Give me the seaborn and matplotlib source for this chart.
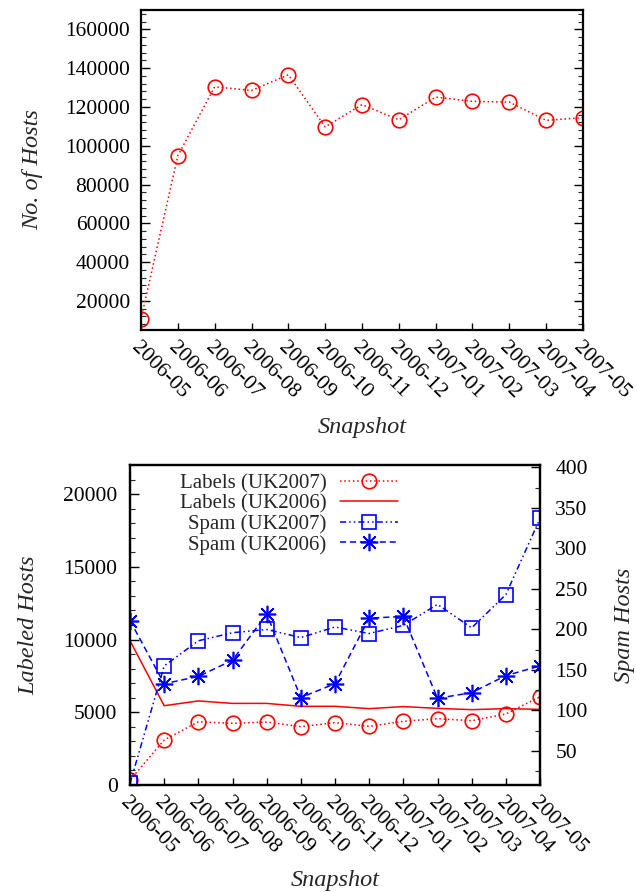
import matplotlib
matplotlib.use("Agg")
import matplotlib.pyplot as plt
from matplotlib.ticker import MultipleLocator
from matplotlib.lines import Line2D
import seaborn as sns
import pandas as pd
import numpy as np

# ---------------- data ----------------
snapshots = ["2006-05", "2006-06", "2006-07", "2006-08", "2006-09", "2006-10",
             "2006-11", "2006-12", "2007-01", "2007-02", "2007-03", "2007-04", "2007-05"]
hosts = [10700, 94900, 130400, 128500, 136600, 109700, 121200, 113400,
         125100, 122900, 122500, 113100, 114500]
labels_uk2007 = [340, 3090, 4350, 4240, 4330, 4010, 4290, 4030, 4380, 4560, 4420, 4880, 6070]
labels_uk2006 = [9920, 5450, 5780, 5610, 5610, 5410, 5410, 5250, 5390, 5270, 5180, 5250, 5200]
spam_uk2007 = [10, 155, 186, 196, 200, 190, 203, 195, 205, 231, 202, 243, 337]
spam_uk2006 = [211, 133, 142, 162, 219, 116, 133, 214, 216, 115, 122, 143, 155]

sns.set_style("ticks")
plt.rcParams['font.family'] = ['Liberation Serif', 'DejaVu Serif']

RED = '#ff0000'
BLUE = '#0000ff'
TICK_FS = 15.5
LAB_FS = 17.5

x = np.arange(len(snapshots))
df = pd.DataFrame({"x": x, "hosts": hosts, "l07": labels_uk2007, "l06": labels_uk2006,
                   "s07": spam_uk2007, "s06": spam_uk2006})

fig = plt.figure(figsize=(6.37, 8.92), dpi=100)
ax1 = fig.add_axes([141/637, 1-330/892, (583-141)/637, 320/892])
ax2 = fig.add_axes([130/637, 1-785/892, (540-130)/637, 320/892])
ax3 = ax2.twinx()

def style_axis(ax):
    for s in ax.spines.values():
        s.set_linewidth(1.6)
        s.set_color('black')
    ax.tick_params(axis='both', which='major', direction='in', length=6.5, width=1.0,
                   labelsize=TICK_FS, colors='black')
    ax.tick_params(axis='both', which='minor', direction='in', length=3.5, width=0.8)

DOT = (0, (1, 1.8))
DASHDOT = (0, (4, 2, 1, 2, 1, 2))
DASH = (0, (4, 2.5))

# ---------------- top plot ----------------
sns.lineplot(data=df, x="x", y="hosts", ax=ax1, color=RED, linestyle=DOT,
             linewidth=1.1, marker='o', markersize=10.5, markerfacecolor='none',
             markeredgecolor=RED, markeredgewidth=1.2)
ax1.set_xlim(0, 12)
ax1.set_ylim(5000, 170000)
ax1.yaxis.set_major_locator(MultipleLocator(20000))
ax1.yaxis.set_minor_locator(MultipleLocator(4000))
style_axis(ax1)
ax1.tick_params(axis='y', which='both', right=True, pad=8)
ax1.set_xticks(x)
ax1.set_xticklabels(snapshots, rotation=-45, ha='left', va='top', rotation_mode='anchor')
ax1.tick_params(axis='x', which='major', length=5, pad=6)
ax1.set_xlabel("Snapshot", fontsize=LAB_FS, style='italic')
ax1.xaxis.label.set_va('center')
ax1.xaxis.set_label_coords(0.5, -0.305)
ax1.set_ylabel("No. of Hosts", fontsize=LAB_FS, style='italic')
ax1.yaxis.label.set_va('center')
ax1.yaxis.set_label_coords(-0.246, 0.5)

# ---------------- bottom plot ----------------
lw = 1.1
sns.lineplot(data=df, x="x", y="l07", ax=ax2, color=RED, linestyle=DOT,
             linewidth=lw, marker='o', markersize=10.5, markerfacecolor='none',
             markeredgecolor=RED, markeredgewidth=1.2)
sns.lineplot(data=df, x="x", y="l06", ax=ax2, color=RED, linestyle='-', linewidth=lw)
sns.lineplot(data=df, x="x", y="s07", ax=ax3, color=BLUE,
             linestyle=DASHDOT, linewidth=lw, marker='s', markersize=10.5,
             markerfacecolor='none', markeredgecolor=BLUE, markeredgewidth=1.2)
sns.lineplot(data=df, x="x", y="s06", ax=ax3, color=BLUE, linestyle=DASH,
             linewidth=lw, marker=(8, 2, 0), markersize=12.5, markeredgecolor=BLUE,
             markeredgewidth=1.2)

ax2.set_xlim(0, 12)
ax2.set_ylim(0, 22000)
ax2.yaxis.set_major_locator(MultipleLocator(5000))
ax2.yaxis.set_minor_locator(MultipleLocator(1000))
ax3.set_ylim(8, 403)
ax3.yaxis.set_major_locator(MultipleLocator(50))
ax3.yaxis.set_minor_locator(MultipleLocator(25))
style_axis(ax2)
style_axis(ax3)
ax2.tick_params(axis='y', which='both', pad=9)
ax3.tick_params(axis='y', which='both', pad=11)
ax3.set_yticks([50, 100, 150, 200, 250, 300, 350, 400])
ax2.set_xticks(x)
ax2.set_xticklabels(snapshots, rotation=-45, ha='left', va='top', rotation_mode='anchor')
ax2.tick_params(axis='x', which='major', length=5, pad=6)
ax2.set_xlabel("Snapshot", fontsize=LAB_FS, style='italic')
ax2.xaxis.label.set_va('center')
ax2.xaxis.set_label_coords(0.5, -0.297)
ax2.set_ylabel("Labeled Hosts", fontsize=LAB_FS, style='italic')
ax2.yaxis.label.set_va('center')
ax2.yaxis.set_label_coords(-0.246, 0.5)
ax3.set_ylabel("Spam Hosts", fontsize=LAB_FS, style='italic')
ax3.yaxis.label.set_va('center')
ax3.yaxis.set_label_coords(1.205, 0.5)

handles = [
    Line2D([], [], color=RED, linestyle=DOT, linewidth=lw, marker='o',
           markersize=10.5, markerfacecolor='none', markeredgewidth=1.2),
    Line2D([], [], color=RED, linestyle='-', linewidth=lw),
    Line2D([], [], color=BLUE, linestyle=DASHDOT, linewidth=lw, marker='s',
           markersize=10.5, markerfacecolor='none', markeredgewidth=1.2),
    Line2D([], [], color=BLUE, linestyle=DASH, linewidth=lw, marker=(8, 2, 0),
           markersize=12.5, markeredgewidth=1.2),
]
names = ["Labels (UK2007)", "Labels (UK2006)", "Spam (UK2007)", "Spam (UK2006)"]
leg = ax3.legend(handles, names, loc='upper right', bbox_to_anchor=(0.665, 0.986),
                 frameon=False, markerfirst=False, fontsize=15, handlelength=2.8,
                 handletextpad=0.65, labelspacing=0.04, borderpad=0.2, borderaxespad=0)

fig.savefig("out.png", dpi=100)
